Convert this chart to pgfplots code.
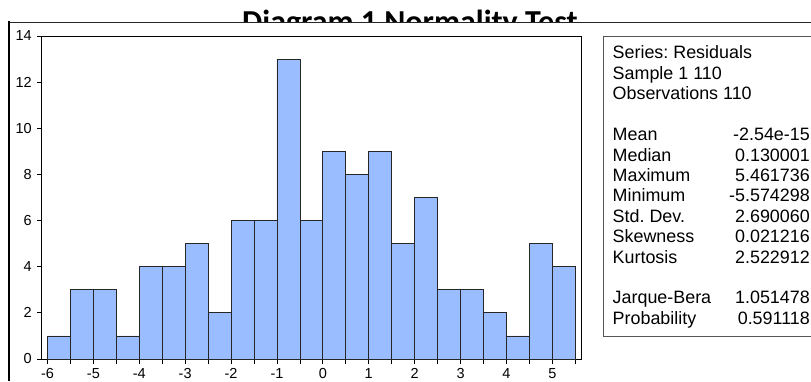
\documentclass[border=0pt]{standalone}
\usepackage{pgfplots}
\pgfplotsset{compat=1.18}
\usepackage{fontspec}
\setmainfont{Liberation Sans}
\newfontfamily\titlefont{Carlito}
\definecolor{barblue}{RGB}{153,189,255}
\definecolor{boxgray}{RGB}{85,85,85}
\frenchspacing

\begin{document}
\begin{tikzpicture}[x=1pt,y=1pt]
\useasboundingbox (0,0) rectangle (811,381);
% title (partly hidden below the frame line, as in the reference)
\node[anchor=base, inner sep=0pt, font=\titlefont\bfseries\fontsize{32}{36}\selectfont] at (410,348.4) {Diagram 1 Normality Test};
\fill[white] (10,300) rectangle (600,358);
\fill[white] (10,345.6) rectangle (811,358);
\draw[line width=1.3pt, black!85] (9,358.5) -- (811,358.5);
\draw[line width=2pt] (9,359.5) -- (9,0);

\begin{axis}[at={(42pt,22pt)}, anchor=south west, scale only axis,
  width=539pt, height=323pt,
  xmin=-6.12, xmax=5.625, ymin=0, ymax=14,
  xtick={-6,-5,...,5}, minor xtick={-5.5,-4.5,...,5.5},
  ytick={0,2,...,14},
  tick align=outside, xtick pos=bottom, ytick pos=left,
  major tick length=5pt, minor tick length=5pt,
  tick style={black, line width=0.8pt},
  axis line style={line width=1pt},
  /pgf/number format/assume math mode=true,
  tick label style={font=\fontsize{14.5}{16}\selectfont},
  xticklabel style={anchor=north, inner sep=0pt, yshift=-4.5pt},
  yticklabel style={anchor=east, inner sep=0pt, xshift=-5pt},
]
\addplot[ybar interval, fill=barblue, draw=black!85, line width=0.8pt] coordinates {
(-6,1) (-5.5,3) (-5,3) (-4.5,1) (-4,4) (-3.5,4) (-3,5) (-2.5,2)
(-2,6) (-1.5,6) (-1,13) (-0.5,6) (0,9) (0.5,8) (1,9) (1.5,5)
(2,7) (2.5,3) (3,3) (3.5,2) (4,1) (4.5,5) (5,4) (5.5,4)};
\end{axis}

% statistics box
\draw[boxgray, line width=0.9pt] (811,345) -- (603,345) -- (603,45) -- (811,45);
\begin{scope}[every node/.style={inner sep=0pt, font=\fontsize{17.9}{20}\selectfont}]
\node[anchor=base west] at (612.5,322.0) {Series: Residuals};
\node[anchor=base west] at (612.5,301.6) {Sample 1 110};
\node[anchor=base west] at (612.5,281.2) {Observations 110};
\node[anchor=base west] at (612.5,240.4) {Mean};
\node[anchor=base west] at (612.5,220.0) {Median};
\node[anchor=base west] at (612.5,199.6) {Maximum};
\node[anchor=base west] at (612.5,179.2) {Minimum};
\node[anchor=base west] at (612.5,158.8) {Std.\ Dev.};
\node[anchor=base west] at (612.5,138.4) {Skewness};
\node[anchor=base west] at (612.5,118.0) {Kurtosis};
\node[anchor=base west] at (612.5,77.2) {Jarque-Bera};
\node[anchor=base west] at (612.5,56.8) {Probability};
\node[anchor=base east] at (810,240.4) {-2.54e-15};
\node[anchor=base east] at (810,220.0) {0.130001};
\node[anchor=base east] at (810,199.6) {5.461736};
\node[anchor=base east] at (810,179.2) {-5.574298};
\node[anchor=base east] at (810,158.8) {2.690060};
\node[anchor=base east] at (810,138.4) {0.021216};
\node[anchor=base east] at (810,118.0) {2.522912};
\node[anchor=base east] at (810,77.2) {1.051478};
\node[anchor=base east] at (810,56.8) {0.591118};
\end{scope}
\end{tikzpicture}
\end{document}
